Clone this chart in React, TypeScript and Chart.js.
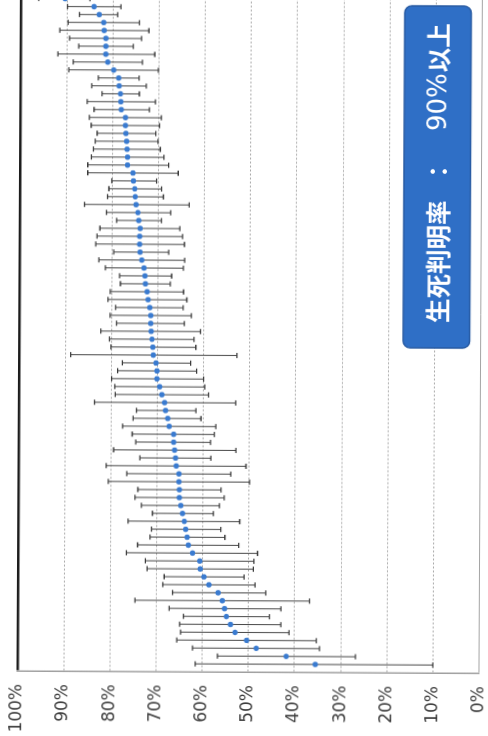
import React, { useEffect, useRef } from "react";
import { Chart, registerables } from "chart.js";

Chart.register(...registerables);

// Identification rate per facility (%), ranked from lowest to highest
const rate = [
  35.5, 41.8, 48.3, 50.4, 52.9, 53.9, 54.8, 55.2, 55.7, 56.6,
  58.6, 59.7, 60.5, 60.6, 62.2, 63.1, 63.4, 63.7, 64.0, 64.4,
  64.8, 65.1, 65.1, 65.2, 65.2, 65.8, 66.0, 66.2, 66.4, 66.4,
  67.4, 67.7, 68.2, 68.4, 69.0, 69.5, 70.1, 70.1, 70.3, 70.9,
  71.0, 71.2, 71.4, 71.5, 71.5, 71.7, 72.1, 72.3, 72.7, 72.8,
  73.0, 73.5, 73.9, 74.0, 74.0, 73.9, 74.2, 74.4, 74.8, 75.0,
  75.1, 75.4, 75.5, 76.7, 76.7, 76.8, 76.9, 77.1, 77.2, 77.2,
  78.1, 78.2, 78.3, 78.6, 78.7, 79.8, 81.1, 81.5, 81.5, 81.5,
  81.9, 82.0, 83.0, 84.1, 90.4,
];

// Upper end of each interval (%)
const upper = [
  61.5, 56.7, 62.1, 65.5, 64.7, 64.9, 64.1, 67.2, 74.6, 66.5,
  68.6, 68.3, 72.0, 72.4, 76.5, 74.1, 71.4, 71.1, 76.2, 70.9,
  73.3, 74.7, 74.1, 80.5, 76.5, 81.0, 73.7, 79.4, 74.6, 75.4,
  77.5, 75.2, 74.5, 83.6, 79.1, 79.2, 79.9, 78.6, 77.6, 88.8,
  80.1, 80.4, 82.3, 78.9, 80.3, 79.1, 80.8, 80.3, 78.1, 78.3,
  81.4, 82.8, 79.6, 83.5, 83.2, 82.6, 79.0, 81.2, 86.0, 81.0,
  80.7, 80.1, 85.3, 85.3, 84.5, 84.1, 83.7, 83.3, 84.6, 85.0,
  84.0, 85.5, 82.3, 84.5, 83.1, 89.5, 88.6, 91.9, 87.4, 89.4,
  91.5, 89.7, 87.3, 89.9, 96.1,
];

// Lower end of each interval (%)
const lower = [
  10.0, 26.8, 34.6, 35.3, 41.2, 43.0, 45.5, 43.0, 36.8, 46.3,
  48.6, 51.0, 49.0, 48.9, 48.1, 52.2, 55.2, 56.1, 52.0, 57.7,
  56.4, 55.4, 56.1, 49.9, 54.0, 50.7, 58.3, 52.9, 58.4, 57.6,
  57.3, 60.5, 61.6, 53.0, 58.9, 59.7, 60.0, 61.5, 62.8, 52.8,
  61.7, 62.1, 60.7, 64.2, 62.7, 64.5, 63.7, 64.4, 67.3, 67.0,
  64.5, 64.2, 67.7, 64.3, 64.7, 65.3, 69.3, 67.3, 63.3, 68.9,
  69.3, 70.4, 65.7, 67.8, 68.8, 69.6, 70.1, 70.6, 69.8, 69.4,
  72.0, 70.7, 74.2, 72.7, 74.3, 70.1, 73.6, 70.9, 75.6, 73.8,
  72.2, 74.3, 79.0, 78.3, 85.0,
];

// Facility rank (position along the category axis)
const rank = rate.map((_, i) => i);

// Value-axis ticks
const tickValues = [0, 10, 20, 30, 40, 50, 60, 70, 80, 90, 100];

const noteTitle = "生死判明率";
const noteSep = "：";
const noteValue = "90%";
const noteTail = "以上";

const CANVAS_W = 800;
const CANVAS_H = 488;

const noteBox = {
  id: "noteBox",
  afterDraw(chart: any) {
    const { ctx } = chart;
    const x0 = 409;
    const x1 = 751;
    const y0 = 403;
    const y1 = 469.5;
    ctx.save();
    ctx.beginPath();
    ctx.roundRect(x0, y0, x1 - x0, y1 - y0, 7);
    ctx.fillStyle = "#2f6fc6";
    ctx.fill();
    ctx.lineWidth = 1.5;
    ctx.strokeStyle = "#285ba3";
    ctx.stroke();

    const cy = (y0 + y1) / 2 + 1;
    ctx.fillStyle = "#ffffff";
    ctx.textBaseline = "middle";
    ctx.textAlign = "left";
    ctx.font = "bold 24.5px 'Noto Sans CJK JP'";
    ctx.fillText(noteTitle, 434, cy);
    ctx.textAlign = "center";
    ctx.fillText(noteSep, 585.5, cy);
    ctx.textAlign = "left";
    ctx.font = "26px 'DejaVu Sans'";
    ctx.fillText(noteValue, 626, cy + 1);
    const w = ctx.measureText(noteValue).width;
    ctx.font = "bold 24.5px 'Noto Sans CJK JP'";
    ctx.fillText(noteTail, 626 + w + 1, cy);
    ctx.restore();
  },
};

export default function App() {
  const canvasRef = useRef<HTMLCanvasElement | null>(null);

  useEffect(() => {
    const canvas = canvasRef.current;
    if (!canvas) return;

    const tickVal = (c: any) => (c && c.tick ? c.tick.value : null);

    // whiskers: one vertical segment per facility, separated by gaps
    const whiskers: any[] = [];
    rank.forEach((i) => {
      whiskers.push({ x: i, y: lower[i] });
      whiskers.push({ x: i, y: upper[i] });
      whiskers.push({ x: i, y: null });
    });

    const chart = new Chart(canvas, {
      type: "scatter",
      data: {
        datasets: [
          {
            label: "rate",
            data: rank.map((i) => ({ x: i, y: rate[i] })),
            pointRadius: 2.7,
            pointBackgroundColor: "#3a7bd0",
            pointBorderColor: "#3a7bd0",
            pointBorderWidth: 0,
            order: 0,
          },
          {
            label: "upper cap",
            data: rank.map((i) => ({ x: i, y: upper[i] })),
            pointStyle: "line",
            pointRadius: 2.6,
            borderColor: "#3a3a3a",
            pointBorderColor: "#3a3a3a",
            pointBorderWidth: 1.3,
            order: 1,
          },
          {
            label: "lower cap",
            data: rank.map((i) => ({ x: i, y: lower[i] })),
            pointStyle: "line",
            pointRadius: 2.6,
            borderColor: "#3a3a3a",
            pointBorderColor: "#3a3a3a",
            pointBorderWidth: 1.3,
            order: 1,
          },
          {
            label: "interval",
            data: whiskers,
            showLine: true,
            spanGaps: false,
            pointRadius: 0,
            borderColor: "#474747",
            borderWidth: 1,
            order: 2,
          },
        ] as any,
      },
      options: {
        animation: false,
        responsive: false,
        maintainAspectRatio: false,
        devicePixelRatio: 1,
        events: [],
        layout: { autoPadding: false, padding: { top: 18.9, bottom: 7.4, left: 0, right: 0 } },
        plugins: {
          legend: { display: false },
          tooltip: { enabled: false },
        },
        scales: {
          x: {
            type: "linear",
            display: false,
            offset: false,
            min: -1,
            max: 89.5,
          },
          y: {
            type: "linear",
            min: 0,
            max: 100,
            afterFit: (scale: any) => {
              scale.width = 84;
            },
            afterBuildTicks: (scale: any) => {
              scale.ticks = tickValues.map((v) => ({ value: v }));
            },
            ticks: {
              padding: 0,
              color: "#3d3d3d",
              font: { family: "'DejaVu Sans'", size: 17, lineHeight: 0.8 },
              callback: (v: any) => `${v}%`,
            },
            grid: {
              drawTicks: true,
              tickLength: 13,
              tickColor: "rgba(0,0,0,0)",
              color: (c: any) => {
                const v = tickVal(c);
                if (v === 100) return "#1c1c1c";
                if (v === 0) return "#a4a4a4";
                return "#a8a8a8";
              },
              lineWidth: (c: any) => (tickVal(c) === 100 ? 2.5 : 1),
            },
            border: {
              display: true,
              color: "#a0a0a0",
              width: 1.5,
              dash: (c: any) => {
                const v = tickVal(c);
                return v !== null && v > 0 && v < 100 ? [2, 2] : [];
              },
            },
          },
        },
      } as any,
      plugins: [noteBox],
    });

    return () => chart.destroy();
  }, []);

  return (
    <div
      style={{
        position: "fixed",
        left: 0,
        top: 0,
        width: 488,
        height: 736,
        overflow: "hidden",
        background: "#ffffff",
      }}
    >
      <div
        style={{
          position: "absolute",
          left: 0,
          top: 0,
          width: 488,
          height: 736,
          transformOrigin: "244px 368px",
          transform: "rotate(0.29deg)",
        }}
      >
        <canvas
          ref={canvasRef}
          width={CANVAS_W}
          height={CANVAS_H}
          style={{
            position: "absolute",
            left: 0,
            top: 0,
            width: CANVAS_W,
            height: CANVAS_H,
            transformOrigin: "0 0",
            transform: "translate(0px, 756px) rotate(-90deg)",
          }}
        />
      </div>
    </div>
  );
}
